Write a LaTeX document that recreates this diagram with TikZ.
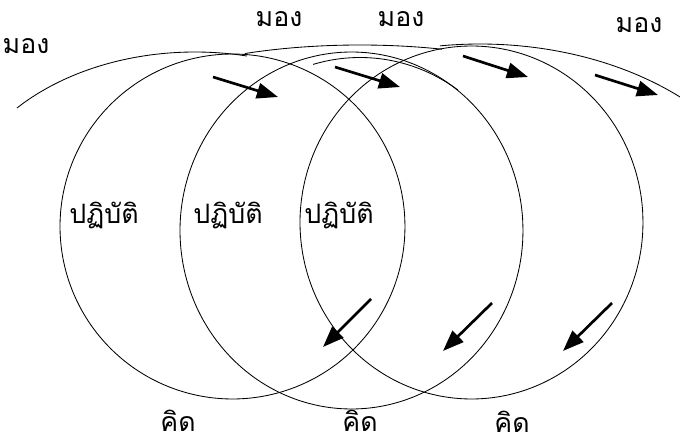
\documentclass[tikz,border=0pt]{standalone}
\usepackage{fontspec}
\newfontfamily\thaifont[Script=Thai]{Loma}
\usepackage{tikz}
\usetikzlibrary{arrows.meta}
\def\ovalarc[#1](#2,#3)(#4:#5:#6:#7){\draw[#1] plot[domain=#4:#5, samples=90, smooth] ({#2+#6*cos(\x)},{#3+#7*sin(\x)});}
\tikzset{
	wire/.style={line width=0.6pt},
	pointer/.style={line width=1.9pt, -{Triangle[length=15pt, width=11pt]}},
	word/.style={font=\thaifont\fontsize{19}{22}\selectfont, inner sep=0pt}
}

\begin{document}
\begin{tikzpicture}[x=0.025cm, y=-0.025cm]
			%%%%% START %%%%%
			\useasboundingbox (0, 0) rectangle (680, 446);
			
			\ovalarc[wire](232.5, 226.5)(0:360:172.5:172.5);
			\ovalarc[wire](351.5, 230.5)(0:360:171.5:178.5);
			\ovalarc[wire](471.5, 222.5)(0:360:171.5:176.5);
			
			\ovalarc[wire](195, 222)(-137.9:-77.5:240:170);
			\ovalarc[wire](360, 121)(-117.4:-70.9:250:76);
			\ovalarc[wire](360, 235.5)(-106:-54.8:170:178);
			\ovalarc[wire](480, 252)(-97.7:-48.2:300:208);
			
			\draw[pointer] (213, 77) -- (278, 97);
			\draw[pointer] (335, 67) -- (400, 87);
			\draw[pointer] (463, 56) -- (528, 77);
			\draw[pointer] (595, 75) -- (658, 95);
			
			\draw[pointer] (371, 299) -- (323, 347);
			\draw[pointer] (492, 303) -- (443, 351);
			\draw[pointer] (612, 303) -- (563, 351);
			
			\node[word] (mong1) at (26, 46) {มอง};
			\node[word] (mong2) at (279, 19) {มอง};
			\node[word] (mong3) at (401, 19) {มอง};
			\node[word] (mong4) at (639, 25) {มอง};
			
			\node[word] (act1) at (104, 215) {ปฏิบัติ};
			\node[word] (act2) at (228, 215) {ปฏิบัติ};
			\node[word] (act3) at (339, 215) {ปฏิบัติ};
			
			\node[word] (kid1) at (178, 421) {คิด};
			\node[word] (kid2) at (360, 421) {คิด};
			\node[word] (kid3) at (512, 422) {คิด};
			%%%%% END %%%%%
\end{tikzpicture}
\end{document}
